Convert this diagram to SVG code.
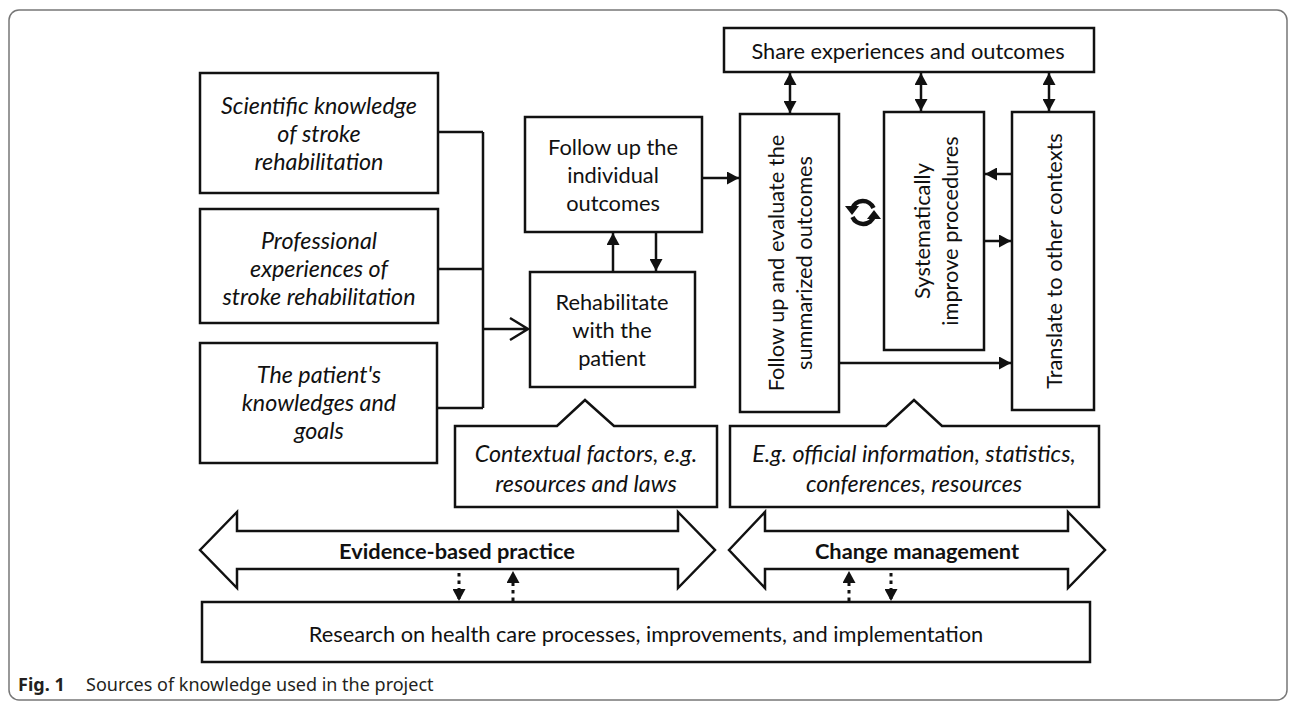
<svg xmlns="http://www.w3.org/2000/svg" width="1295" height="702" viewBox="0 0 1295 702">
<style>
.box{fill:#fff;stroke:#111;stroke-width:2.5}
.ln{fill:none;stroke:#111;stroke-width:2.5}
.dot{fill:none;stroke:#111;stroke-width:3;stroke-dasharray:3.5,4}
.t{font-family:Lato,"Open Sans",sans-serif;font-size:21.8px;fill:#111;text-anchor:middle;dominant-baseline:central}
.i{font-style:italic;font-size:23.3px}
.b{font-weight:bold}
.cap{font-family:"Noto Sans","Open Sans",sans-serif;font-size:18px;fill:#231f20}
</style>
<defs>
<marker id="ah" viewBox="0 0 10 10" refX="10" refY="5" markerWidth="12" markerHeight="13" markerUnits="userSpaceOnUse" orient="auto-start-reverse" preserveAspectRatio="none"><path d="M0,0 L10,5 L0,10 z" fill="#111"/></marker>
</defs>
<rect x="9" y="10" width="1278" height="690" rx="10" fill="none" stroke="#777" stroke-width="1.5"/>

<g id="n-scientific"><rect class="box" x="200" y="73" width="238" height="120"/>
<text class="t i" x="319" y="105">Scientific knowledge</text><text class="t i" x="319" y="133">of stroke</text><text class="t i" x="319" y="161">rehabilitation</text></g>
<g id="n-professional"><rect class="box" x="200" y="209" width="238" height="114"/>
<text class="t i" x="319" y="240">Professional</text><text class="t i" x="319" y="268">experiences of</text><text class="t i" x="319" y="296">stroke rehabilitation</text></g>
<g id="n-patient"><rect class="box" x="200" y="343" width="237" height="120"/>
<text class="t i" x="319" y="374">The patient's</text><text class="t i" x="319" y="402">knowledges and</text><text class="t i" x="319" y="430">goals</text></g>

<g id="n-followind"><rect class="box" x="525" y="117" width="177" height="115"/>
<text class="t" x="613" y="146">Follow up the</text><text class="t" x="613" y="174">individual</text><text class="t" x="613" y="202">outcomes</text></g>
<g id="n-rehab"><rect class="box" x="530" y="272" width="165" height="115"/>
<text class="t" x="612" y="301">Rehabilitate</text><text class="t" x="612" y="329">with the</text><text class="t" x="612" y="357">patient</text></g>

<g id="n-share"><rect class="box" x="724" y="28" width="370" height="44"/>
<text class="t" x="908" y="50">Share experiences and outcomes</text></g>
<g id="n-summ"><rect class="box" x="740" y="114" width="99" height="298"/>
<text class="t" transform="translate(775,263) rotate(-90)">Follow up and evaluate the</text>
<text class="t" transform="translate(803,263) rotate(-90)">summarized outcomes</text></g>
<g id="n-system"><rect class="box" x="884" y="112" width="100" height="238"/>
<text class="t" transform="translate(921,231) rotate(-90)">Systematically</text>
<text class="t" transform="translate(949,231) rotate(-90)">improve procedures</text></g>
<g id="n-translate"><rect class="box" x="1012" y="112" width="82" height="298"/>
<text class="t" transform="translate(1053,261) rotate(-90)">Translate to other contexts</text></g>

<g id="n-cycle" fill="none" stroke="#111" stroke-width="4.5">
<path d="M873.5,208 A11.5,11.5 0 0 0 852,209"/>
<path d="M852.5,217 A11.5,11.5 0 0 0 874,216"/>
<path d="M845,206 L859,206 L852,215 z" fill="#111" stroke="none"/>
<path d="M867,219 L881,219 L874,210 z" fill="#111" stroke="none"/>
</g>

<g id="n-context"><path class="box" d="M455 426 L557 426 L585 400 L614 426 L717 426 L717 507 L455 507 Z"/>
<text class="t i" x="586" y="453">Contextual factors, e.g.</text><text class="t i" x="586" y="483">resources and laws</text></g>
<g id="n-official"><path class="box" d="M730 426 L886 426 L914 400 L942 426 L1099 426 L1099 507 L730 507 Z"/>
<text class="t i" x="914" y="453">E.g. official information, statistics,</text><text class="t i" x="914" y="483">conferences, resources</text></g>

<g id="n-ebp"><path class="box" d="M200 550 L237 512 L237 531 L678 531 L678 512 L715 550 L678 588 L678 569 L237 569 L237 588 Z"/>
<text class="t b" x="457" y="550">Evidence-based practice</text></g>
<g id="n-change"><path class="box" d="M729 550 L765 512 L765 531 L1068 531 L1068 512 L1105 550 L1068 588 L1068 569 L765 569 L765 588 Z"/>
<text class="t b" x="917" y="550">Change management</text></g>

<g id="n-research"><rect class="box" x="202" y="602" width="888" height="60"/>
<text class="t" x="646" y="633">Research on health care processes, improvements, and implementation</text></g>

<g id="connectors">
<path class="ln" d="M438 132 H483 M438 269 H483 M437 408 H483 M483 132 V408 M483 329 H528 M510 318 L528 329 L510 340"/>
<path class="ln" d="M613 272 V233" marker-end="url(#ah)"/>
<path class="ln" d="M656 232 V271" marker-end="url(#ah)"/>
<path class="ln" d="M702 178 H739" marker-end="url(#ah)"/>
<path class="ln" d="M790 73 V113" marker-start="url(#ah)" marker-end="url(#ah)"/>
<path class="ln" d="M921 73 V111" marker-start="url(#ah)" marker-end="url(#ah)"/>
<path class="ln" d="M1049 73 V111" marker-start="url(#ah)" marker-end="url(#ah)"/>
<path class="ln" d="M1012 174 H985" marker-end="url(#ah)"/>
<path class="ln" d="M984 241 H1011" marker-end="url(#ah)"/>
<path class="ln" d="M839 363 H1011" marker-end="url(#ah)"/>
<path class="dot" d="M459 573 V601" marker-end="url(#ah)"/>
<path class="dot" d="M513 601 V571" marker-end="url(#ah)"/>
<path class="dot" d="M849 601 V571" marker-end="url(#ah)"/>
<path class="dot" d="M891 573 V601" marker-end="url(#ah)"/>
</g>

<text class="cap" x="18" y="691"><tspan font-weight="bold">Fig. 1</tspan><tspan x="86">Sources of knowledge used in the project</tspan></text>
</svg>
